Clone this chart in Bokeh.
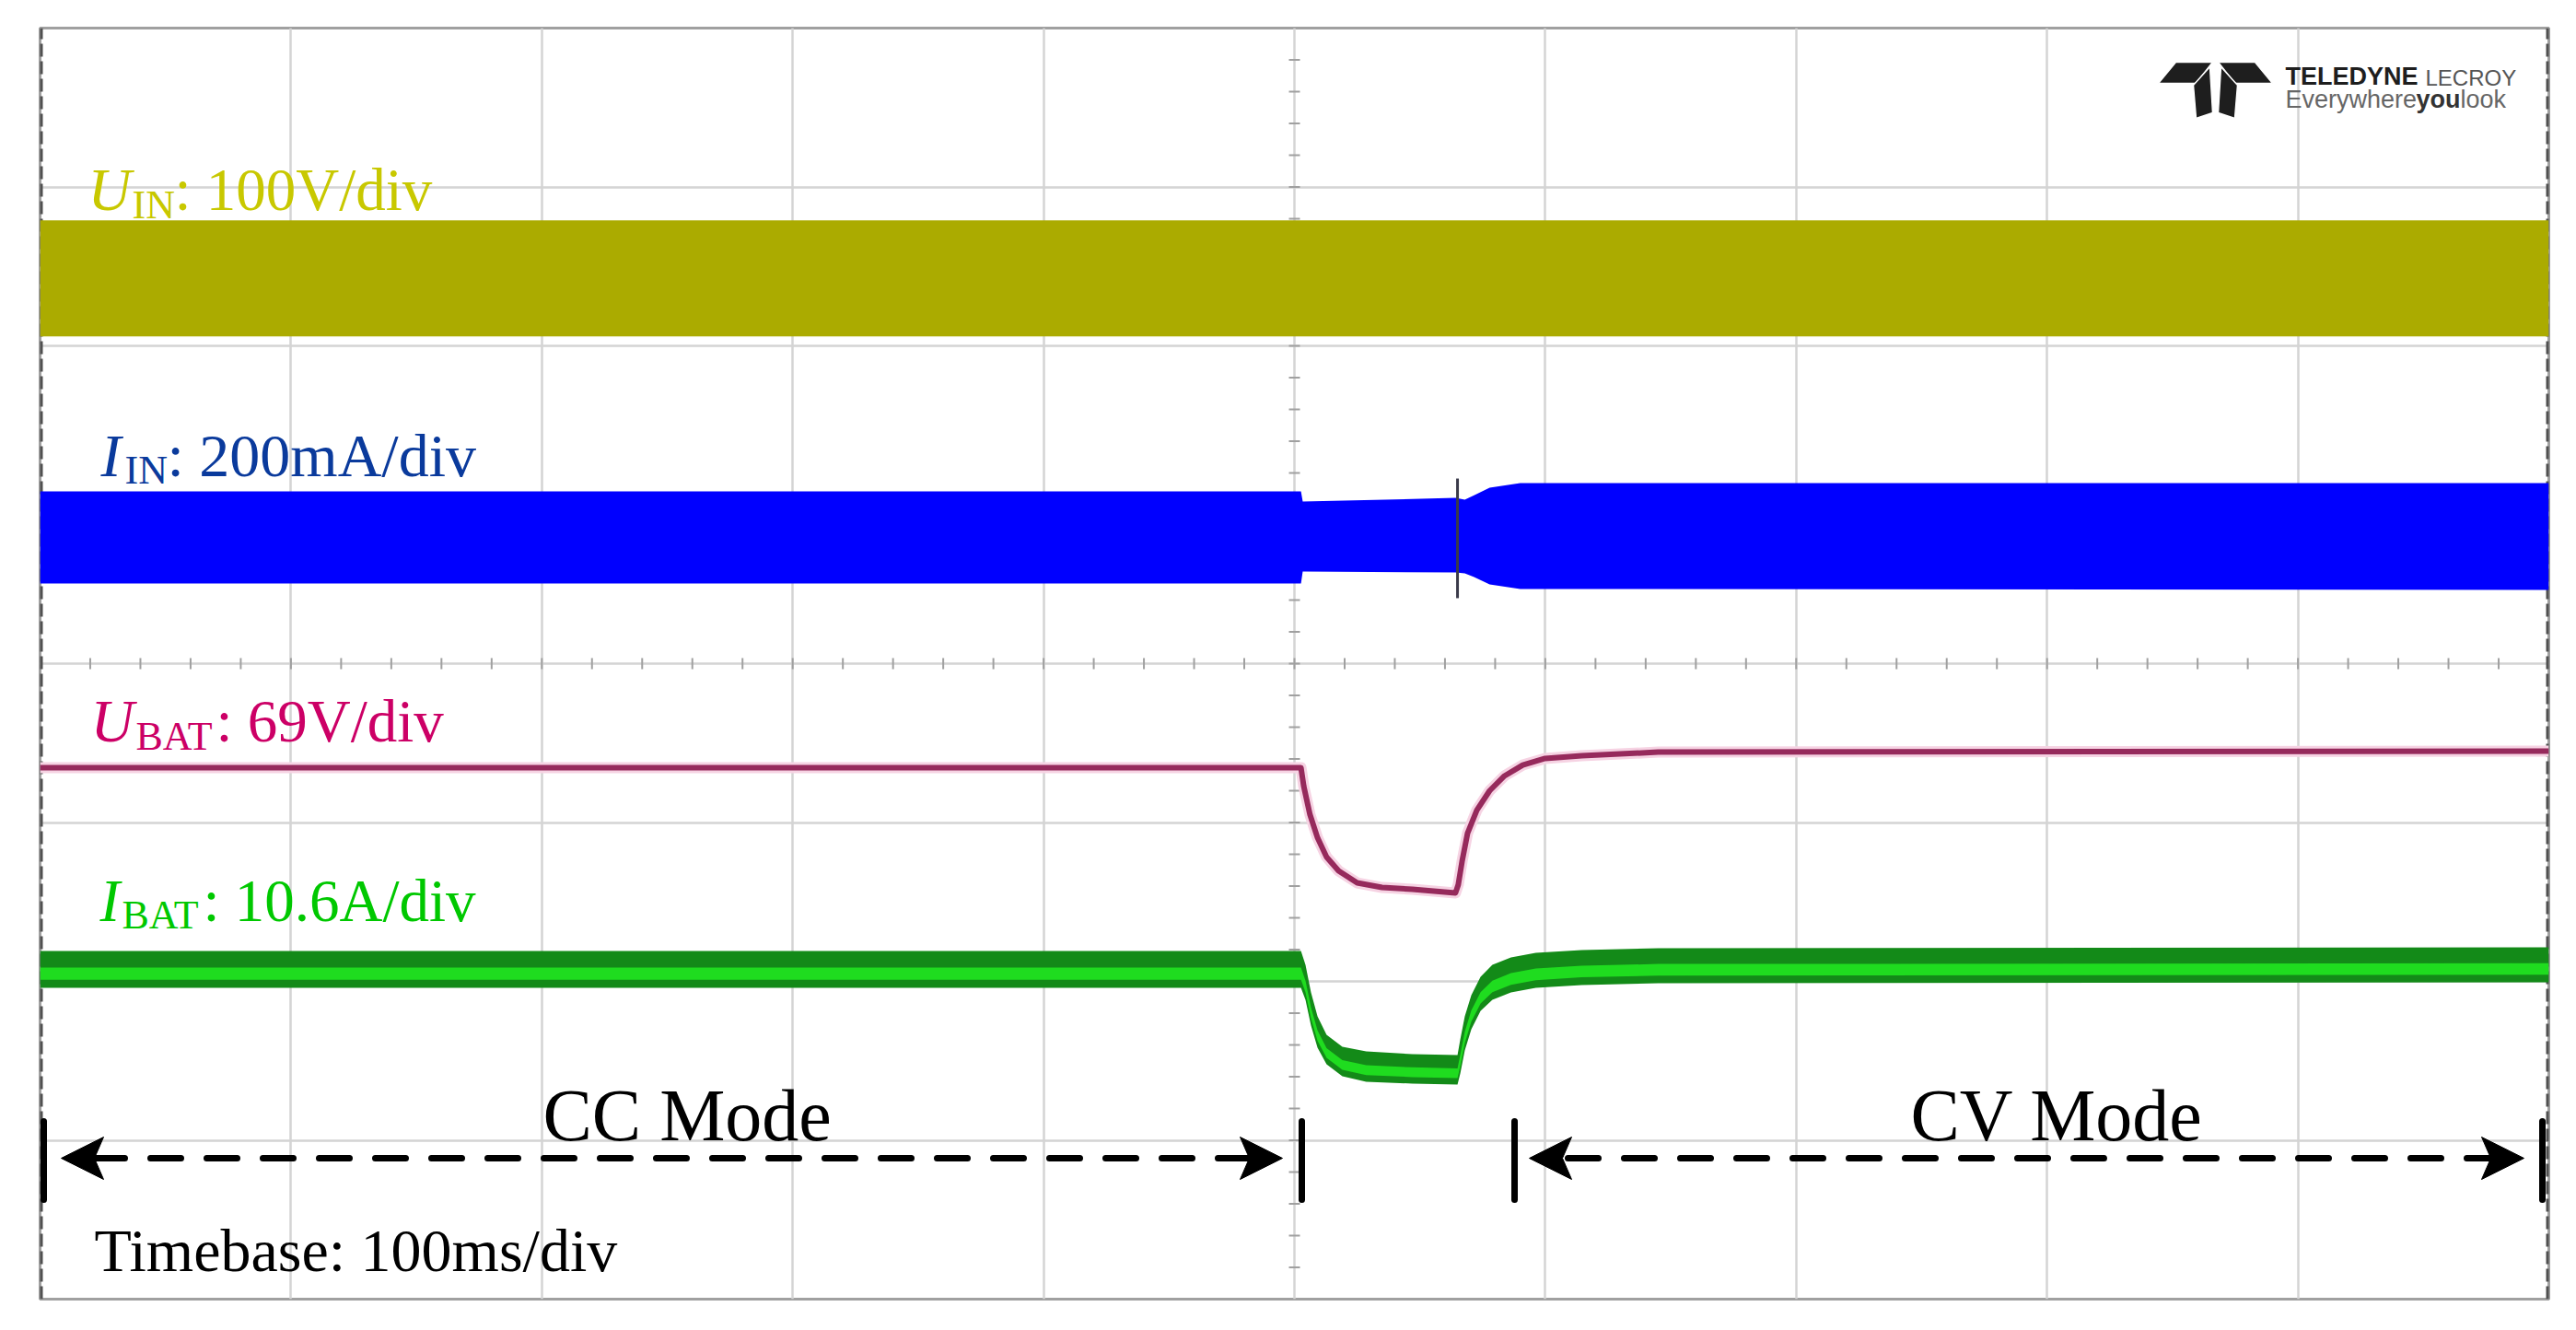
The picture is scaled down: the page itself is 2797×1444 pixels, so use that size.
import numpy as np
from bokeh.plotting import figure
from bokeh.models import Grid, FixedTicker
from bokeh.core.properties import value
from bokeh.embed import file_html
from bokeh.resources import INLINE

# ---------------- data (time in ms, 100 ms/div; vertical in screen divisions, 0 = bottom, 8 = top)
uin_t = [0, 1000]
uin_top = [6.79, 6.79]
uin_bot = [6.06, 6.06]

iin_t = [0, 502.6, 503.3, 564.2, 567.9, 571.6, 577.8, 590.0, 1000]
iin_top = [5.084, 5.084, 5.020, 5.043, 5.032, 5.060, 5.107, 5.136, 5.136]
iin_bot = [4.504, 4.504, 4.580, 4.574, 4.568, 4.545, 4.499, 4.470, 4.464]
iin_spike_t = [565.0]
iin_spike_lo = [4.412]
iin_spike_hi = [5.165]

ubat_t = [0, 502.6, 503.7, 506.2, 509.2, 512.8, 517.6, 525.0, 534.9, 547.0, 564.2,
          565.3, 566.8, 569.0, 572.7, 577.8, 583.7, 591.0, 599.9, 614.5, 645.0, 1000]
ubat_y = [3.345, 3.345, 3.229, 3.049, 2.904, 2.783, 2.696, 2.620, 2.591, 2.580, 2.557,
          2.609, 2.754, 2.933, 3.078, 3.200, 3.293, 3.362, 3.403, 3.420, 3.443, 3.449]

ibat_t = [0, 502.6, 504.4, 506.6, 509.2, 512.8, 519.1, 528.6, 547.0, 565.0, 566.1,
          567.9, 570.5, 574.2, 578.9, 586.3, 596.2, 614.5, 645.0, 1000]
ibat_top = [2.191, 2.191, 2.104, 1.930, 1.780, 1.664, 1.588, 1.559, 1.542, 1.536, 1.635,
            1.780, 1.913, 2.029, 2.104, 2.151, 2.180, 2.197, 2.209, 2.214]
ibat_bot = [1.959, 1.959, 1.884, 1.722, 1.583, 1.478, 1.403, 1.368, 1.357, 1.351, 1.420,
            1.565, 1.699, 1.814, 1.884, 1.930, 1.959, 1.977, 1.988, 1.994]

grid_x = [100, 200, 300, 400, 500, 600, 700, 800, 900]
grid_y = [1, 2, 3, 4, 5, 6, 7]

# ---------------- layout helpers (reference pixel -> data)
FX0, FX1, FY0, FY1 = 43, 2767, 30, 1410


def X(px):
    return (px - FX0) / (FX1 - FX0) * 1000.0


def Y(py):
    return (FY1 - py) / (FY1 - FY0) * 8.0


W, H = 2790, 1436
p = figure(width=W, height=H, x_range=(0, 1000), y_range=(0, 8),
           x_axis_type=None, y_axis_type=None,
           output_backend="svg", toolbar_location=None,
           min_border_left=FX0, min_border_right=W - FX1,
           min_border_top=FY0, min_border_bottom=H - FY1)
p.background_fill_color = "white"
p.border_fill_color = "white"
p.outline_line_color = "#a0a0a0"
p.outline_line_width = 3

p.add_layout(Grid(dimension=0, ticker=FixedTicker(ticks=grid_x),
                  grid_line_color="#d4d4d4", grid_line_width=2.5))
p.add_layout(Grid(dimension=1, ticker=FixedTicker(ticks=grid_y),
                  grid_line_color="#d4d4d4", grid_line_width=2.5))

# minor ticks on the centre lines
mt_x = np.arange(20, 1000, 20)
p.segment(x0=mt_x, y0=4 - 0.035, x1=mt_x, y1=4 + 0.035, line_color="#a0a0a0", line_width=2)
mt_y = np.arange(0.2, 8, 0.2)
p.segment(x0=500 - 2.2, y0=mt_y, x1=500 + 2.2, y1=mt_y, line_color="#a0a0a0", line_width=2)

# left / right dark border
p.segment(x0=[0, 1000], y0=[0, 0], x1=[0, 1000], y1=[8, 8],
          line_color="#505050", line_width=6, line_dash="14 5")

# ---------------- traces
p.varea(x=uin_t, y1=uin_bot, y2=uin_top, fill_color="#abab00")
p.varea(x=iin_t, y1=iin_bot, y2=iin_top, fill_color="#0000ff")
p.segment(x0=iin_spike_t, y0=iin_spike_lo, x1=iin_spike_t, y1=iin_spike_hi,
          line_color="#3a3a4a", line_width=3)

p.line(ubat_t, ubat_y, line_color="#f6d3e3", line_width=12, line_join="round")
p.line(ubat_t, ubat_y, line_color="#962a5c", line_width=6, line_join="round")

ib_top = np.array(ibat_top)
ib_bot = np.array(ibat_bot)
th = ib_top - ib_bot
p.varea(x=ibat_t, y1=ib_bot, y2=ib_top, fill_color="#138a18")
p.varea(x=ibat_t, y1=ib_bot + 0.22 * th, y2=ib_bot + 0.55 * th, fill_color="#1fdc1f")

# ---------------- text helpers
SERIF = value("Liberation Serif")
SANS = value("Liberation Sans")
BASE_FIX = 0.35  # svg baseline correction (fraction of font size)


def txt(s, px, py, size, color, style="normal", font=SERIF):
    p.text(x=[X(px)], y=[Y(py - BASE_FIX * size)], text=[s], text_font=font,
           text_font_size=f"{size}px", text_font_style=style, text_color=color,
           text_baseline="alphabetic", text_align="left")


def label(parts, color):
    for (s, px, py, size, style) in parts:
        txt(s, px, py, size, color, style)


label([("U", 95, 228, 65, "italic"), ("IN", 143, 237, 44, "normal"),
       (": 100V/div", 189, 228, 65, "normal")], "#c8c800")
label([("I", 109, 517, 66, "italic"), ("IN", 135, 525, 44, "normal"),
       (": 200mA/div", 181, 517, 66, "normal")], "#0a3a9c")
label([("U", 98, 805, 65, "italic"), ("BAT", 147, 814, 44, "normal"),
       (": 69V/div", 234, 805, 65, "normal")], "#cc0066")
label([("I", 108, 1000, 65, "italic"), ("BAT", 132, 1008, 44, "normal"),
       (": 10.6A/div", 220, 1000, 65, "normal")], "#00c800")

# ---------------- mode annotations
txt("CC Mode", 589, 1238, 80, "black")
txt("CV Mode", 2074, 1238, 80, "black")
txt("Timebase: 100ms/div", 102, 1380, 66, "black")

ay = 1257
bars = [47, 1413, 1644, 2760]
p.segment(x0=[X(b) for b in bars], y0=Y(1217), x1=[X(b) for b in bars], y1=Y(1302),
          line_color="black", line_width=7, line_cap="round")
shafts = [(102, 1356), (1702, 2704)]
for a, b in shafts:
    p.line([X(a), X(b)], [Y(ay), Y(ay)], line_color="black", line_width=7,
           line_dash="33 28", line_cap="round")
heads = [(66, 112, 102), (1392, 1346, 1356), (1660, 1706, 1696), (2740, 2694, 2704)]
hx, hy = [], []
for tip, back, notch in heads:
    hx.append([X(tip), X(back), X(notch), X(back)])
    hy.append([Y(ay), Y(ay - 23), Y(ay), Y(ay + 23)])
p.patches(hx, hy, fill_color="black", line_color="black", line_width=1)

# ---------------- logo
lx = [[2343, 2362, 2402, 2384], [2467, 2448, 2408, 2426],
      [2381, 2399, 2402, 2384], [2429, 2411, 2408, 2426]]
ly = [[90, 67, 67, 90], [90, 67, 67, 90],
      [92, 72, 122, 128], [92, 72, 122, 128]]
p.patches([[X(v) for v in r] for r in lx], [[Y(v) for v in r] for r in ly],
          fill_color="#1e1e1e", line_color="white", line_width=1.5)
txt("TELEDYNE", 2481, 92, 27, "#1e1e1e", "bold", SANS)
txt("LECROY", 2633, 92, 24, "#555555", "normal", SANS)
txt("Everywhere", 2481, 117, 27, "#666666", "normal", SANS)
txt("you", 2623, 117, 27, "#333333", "bold", SANS)
txt("look", 2671, 117, 27, "#666666", "normal", SANS)

open("out.html", "w").write(file_html(p, INLINE))
